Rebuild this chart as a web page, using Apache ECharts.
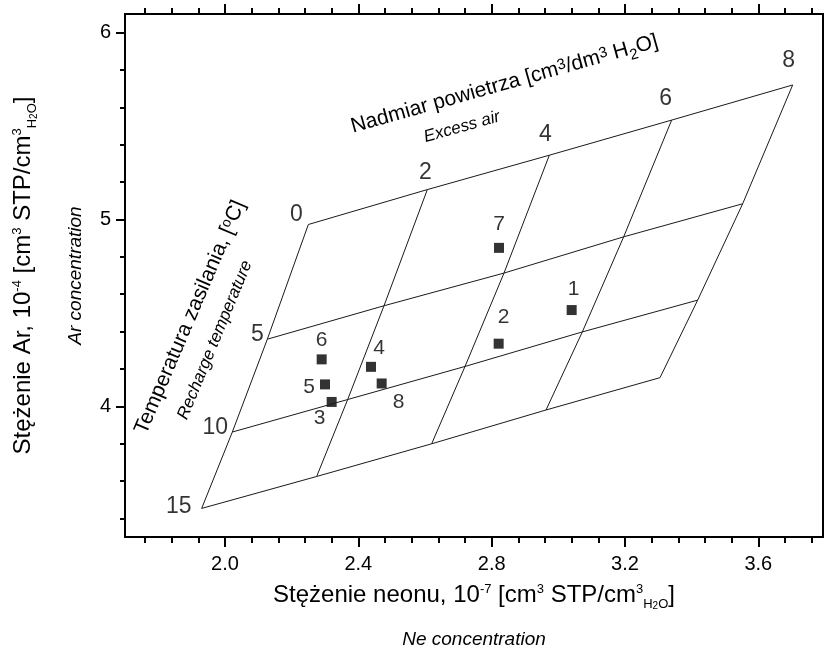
<!DOCTYPE html>
<html>
<head>
<meta charset="utf-8">
<script src="https://cdn.jsdelivr.net/npm/echarts@6/dist/echarts.min.js"></script>
<style>
html, body { margin: 0; padding: 0; background: #fff; }
#main { width: 824px; height: 656px; }
</style>
</head>
<body>
<div id="main"></div>
<script>
// siatka: temperatura zasilania (wiersze) x nadmiar powietrza (kolumny)
var tempLevels = [0, 5, 10, 15];
var airLevels = [0, 2, 4, 6, 8];
var gridNe = [
    [2.250, 2.607, 2.973, 3.340, 3.703],
    [2.127, 2.477, 2.837, 3.196, 3.553],
    [2.022, 2.368, 2.720, 3.072, 3.418],
    [1.930, 2.275, 2.620, 2.963, 3.305]
];
var gridAr = [
    [4.973, 5.160, 5.344, 5.532, 5.720],
    [4.359, 4.538, 4.713, 4.907, 5.084],
    [3.862, 4.036, 4.213, 4.398, 4.568],
    [3.453, 3.624, 3.799, 3.980, 4.153]
];
// punkty pomiarowe
var sampleIds = ['1', '2', '3', '4', '5', '6', '7', '8'];
var sampleNe = [3.040, 2.821, 2.320, 2.438, 2.300, 2.290, 2.822, 2.470];
var sampleAr = [4.515, 4.335, 4.023, 4.211, 4.117, 4.251, 4.848, 4.122];
// etykiety osi
var xTicks = [2.0, 2.4, 2.8, 3.2, 3.6];
var yTicks = [4, 5, 6];

// przesuniecia etykiet (px)
var sampleLabelOffset = [[2, -21], [5, -26], [-12, 16], [8, -19], [-16, 3], [0, -19], [0, -24], [17, 19]];
var tempLabelOffset = [[-12, -10], [-10, -5], [-17, -4], [-23, -2]];
var airLabelOffset = [[0, 0], [-2, -17], [-4, -21], [-6, -21], [-4, -24]];

var FONT = 'Liberation Sans';
var INK = '#000';
var chart = echarts.init(document.getElementById('main'));

function minorTicks(from, to, step, majors) {
    var out = [];
    for (var v = from; v <= to + 1e-9; v += step) {
        var r = Math.round(v * 100) / 100;
        if (majors.indexOf(r) < 0) out.push(r);
    }
    return out;
}
var xMinor = minorTicks(1.76, 3.76, 0.08, xTicks);
var yMinor = minorTicks(3.4, 6.0, 0.2, yTicks);

// indeksy gorne / dolne w tekscie rich
function richStyles(size, supSize) {
    var s = supSize || Math.round(size * 0.55), b = Math.round(size * 0.42);
    var lh = size + 4;
    return {
        pad: {fontSize: 4, lineHeight: lh, verticalAlign: 'top'},
        t: {fontSize: size, fontFamily: FONT, color: INK, lineHeight: lh, verticalAlign: 'top'},
        sup: {fontSize: s, fontFamily: FONT, color: INK, lineHeight: s, verticalAlign: 'top'},
        sm: {fontSize: s, fontFamily: FONT, color: INK, lineHeight: s, verticalAlign: 'bottom'},
        sub: {fontSize: s, fontFamily: FONT, color: INK, lineHeight: lh - 4, verticalAlign: 'bottom'},
        sub2: {fontSize: b, fontFamily: FONT, color: INK, lineHeight: lh - 8, verticalAlign: 'bottom'}
    };
}

var X_MIN = 1.70, X_MAX = 3.794, Y_MIN = 3.30, Y_MAX = 6.10;
var axisLineStyle = {color: INK, width: 2};

function xAxisDef(pos, ticks, len, showLabel, name, nameGap, nameStyle) {
    return {
        type: 'value', position: pos, min: X_MIN, max: X_MAX,
        axisLine: {show: true, lineStyle: axisLineStyle},
        axisTick: {show: true, customValues: ticks, length: len, lineStyle: {color: INK, width: 2}},
        axisLabel: {show: showLabel, customValues: ticks, margin: 17, fontSize: 20, fontFamily: FONT, color: INK,
            formatter: function (v) { return v.toFixed(1); }},
        splitLine: {show: false},
        name: name || '', nameLocation: 'middle', nameGap: nameGap || 0, nameMoveOverlap: false,
        nameTextStyle: nameStyle || {}
    };
}
function yAxisDef(pos, ticks, len, showLabel, name, nameGap, nameStyle) {
    return {
        type: 'value', position: pos, min: Y_MIN, max: Y_MAX,
        axisLine: {show: true, lineStyle: axisLineStyle},
        axisTick: {show: ticks.length > 0, customValues: ticks, length: len, lineStyle: {color: INK, width: 2}},
        axisLabel: {show: showLabel, customValues: ticks, margin: 14, fontSize: 20, fontFamily: FONT, color: INK},
        splitLine: {show: false},
        name: name || '', nameLocation: 'middle', nameGap: nameGap || 0, nameMoveOverlap: false,
        nameTextStyle: nameStyle || {}
    };
}

var series = [];
// izolinie temperatury
tempLevels.forEach(function (t, i) {
    series.push({
        type: 'line', silent: true, symbol: 'none', animation: false,
        lineStyle: {color: '#1a1a1a', width: 1},
        data: airLevels.map(function (a, j) { return [gridNe[i][j], gridAr[i][j]]; })
    });
});
// izolinie nadmiaru powietrza
airLevels.forEach(function (a, j) {
    series.push({
        type: 'line', silent: true, symbol: 'none', animation: false,
        lineStyle: {color: '#1a1a1a', width: 1},
        data: tempLevels.map(function (t, i) { return [gridNe[i][j], gridAr[i][j]]; })
    });
});
var gridLabel = {show: true, position: 'inside', formatter: '{b}', fontSize: 23, fontFamily: FONT, color: INK};
series.push({
    type: 'scatter', silent: true, symbolSize: 0, animation: false, label: gridLabel,
    data: tempLevels.map(function (t, i) {
        return {name: String(t), value: [gridNe[i][0], gridAr[i][0]], label: {offset: tempLabelOffset[i]}};
    })
});
series.push({
    type: 'scatter', silent: true, symbolSize: 0, animation: false, label: gridLabel,
    data: airLevels.slice(1).map(function (a, k) {
        return {name: String(a), value: [gridNe[0][k + 1], gridAr[0][k + 1]], label: {offset: airLabelOffset[k + 1]}};
    })
});
series.push({
    type: 'scatter', symbol: 'rect', symbolSize: 10, animation: false,
    itemStyle: {color: '#000'},
    label: {show: true, position: 'inside', formatter: '{b}', fontSize: 21, fontFamily: FONT, color: INK},
    data: sampleIds.map(function (id, k) {
        return {name: id, value: [sampleNe[k], sampleAr[k]], label: {offset: sampleLabelOffset[k]}};
    })
});

var option = {
    backgroundColor: '#fff',
    animation: false,
    grid: {left: 125, top: 14, width: 698, height: 523, containLabel: false},
    xAxis: [
        xAxisDef('bottom', xTicks, 10, true,
            '{pad|\u200b}{t|Stężenie neonu, 10}{sup|-7}{t| [cm}{sup|3}{t| STP/cm}{sup|3}{sub|H}{sub2|2}{sub|O}{t|]}', 46,
            {rich: richStyles(24)}),
        xAxisDef('bottom', xMinor, 6, false, 'Ne concentration', 93,
            {fontSize: 19, fontStyle: 'italic', fontFamily: FONT, color: INK}),
        xAxisDef('top', xTicks, 10, false),
        xAxisDef('top', xMinor, 6, false)
    ],
    yAxis: [
        yAxisDef('left', yTicks, 9, true,
            '{pad|\u200b}{t|Stężenie Ar, 10}{sup|-4}{t| [cm}{sup|3}{t| STP/cm}{sup|3}{sub|H}{sub2|2}{sub|O}{t|]}', 86,
            {rich: richStyles(24)}),
        yAxisDef('left', yMinor, 5, false, 'Ar concentration', 40,
            {fontSize: 19, fontStyle: 'italic', fontFamily: FONT, color: INK}),
        yAxisDef('right', [], 0, false)
    ],
    graphic: [
        {
            type: 'text', x: 505, y: 86, rotation: 15.7 * Math.PI / 180,
            style: {
                text: '{t|Nadmiar powietrza [cm}{sup|3}{t|/dm}{sup|3}{t| H}{sm|2}{t|O]}',
                rich: richStyles(21, 15), align: 'center', verticalAlign: 'middle'
            }
        },
        {
            type: 'text', x: 462, y: 127, rotation: 15.7 * Math.PI / 180,
            style: {text: 'Excess air', fontSize: 17, fontStyle: 'italic', fontFamily: FONT, fill: INK,
                align: 'center', verticalAlign: 'middle'}
        },
        {
            type: 'text', x: 192, y: 318, rotation: 66.8 * Math.PI / 180,
            style: {
                text: '{t|Temperatura zasilania, [}{sup|o}{t|C]}',
                rich: richStyles(21, 14), align: 'center', verticalAlign: 'middle'
            }
        },
        {
            type: 'text', x: 215, y: 340, rotation: 67.5 * Math.PI / 180,
            style: {text: 'Recharge temperature', fontSize: 17, fontStyle: 'italic', fontFamily: FONT, fill: INK,
                align: 'center', verticalAlign: 'middle'}
        }
    ],
    series: series
};
// kazda seria na pierwszej parze osi
option.series.forEach(function (s) { s.xAxisIndex = 0; s.yAxisIndex = 0; });
chart.setOption(option);
</script>
</body>
</html>
